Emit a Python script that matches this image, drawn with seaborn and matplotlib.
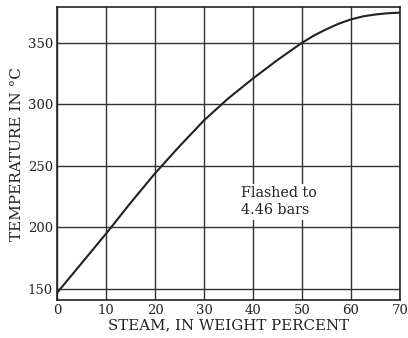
import matplotlib
matplotlib.use("Agg")
import matplotlib.pyplot as plt
import seaborn as sns
import pandas as pd

# values
steam_pct = [0, 5, 10, 15, 20, 25, 30, 35, 40, 45, 50, 52.5, 55, 57.5, 60, 62.5, 65, 67.5, 70]
temp_c = [147, 171, 195, 220, 244, 266, 287, 305, 321, 336, 350, 356, 361, 365.5, 369, 371.5, 373, 374, 374.5]
x_ticks = [0, 10, 20, 30, 40, 50, 60, 70]
y_ticks = [150, 200, 250, 300, 350]
note_text = "Flashed to\n4.46 bars"

df = pd.DataFrame({"steam": steam_pct, "temp": temp_c})

sns.set_theme(style="white")
plt.rcParams["font.family"] = ["DejaVu Serif"]

fig = plt.figure(figsize=(4.08, 3.38), dpi=100)
ax = fig.add_axes([0.140, 0.112, 0.840, 0.867])

sns.lineplot(data=df, x="steam", y="temp", ax=ax, color="#222222", linewidth=1.5)

ax.set_xlim(0, 70)
ax.set_ylim(141, 379)
ax.set_xticks(x_ticks)
ax.set_yticks(y_ticks)
ax.grid(True, color="#333333", linewidth=1.0)
for side in ax.spines.values():
    side.set_color("#222222")
    side.set_linewidth(1.2)

ax.tick_params(axis="both", labelsize=9.5, colors="#222222", length=0, pad=3)
ax.set_xlabel("STEAM, IN WEIGHT PERCENT", fontsize=10.8, color="#222222", labelpad=1)
ax.set_ylabel("TEMPERATURE IN \u00b0C", fontsize=11, color="#222222", labelpad=3)

# the note sits on a white patch that hides the grid behind it
ax.text(37.6, 221, note_text, fontsize=10.3, color="#222222", ha="left", va="center",
        linespacing=1.25, zorder=5,
        bbox=dict(facecolor="white", edgecolor="none", pad=2))

fig.savefig("out.png", dpi=100)
